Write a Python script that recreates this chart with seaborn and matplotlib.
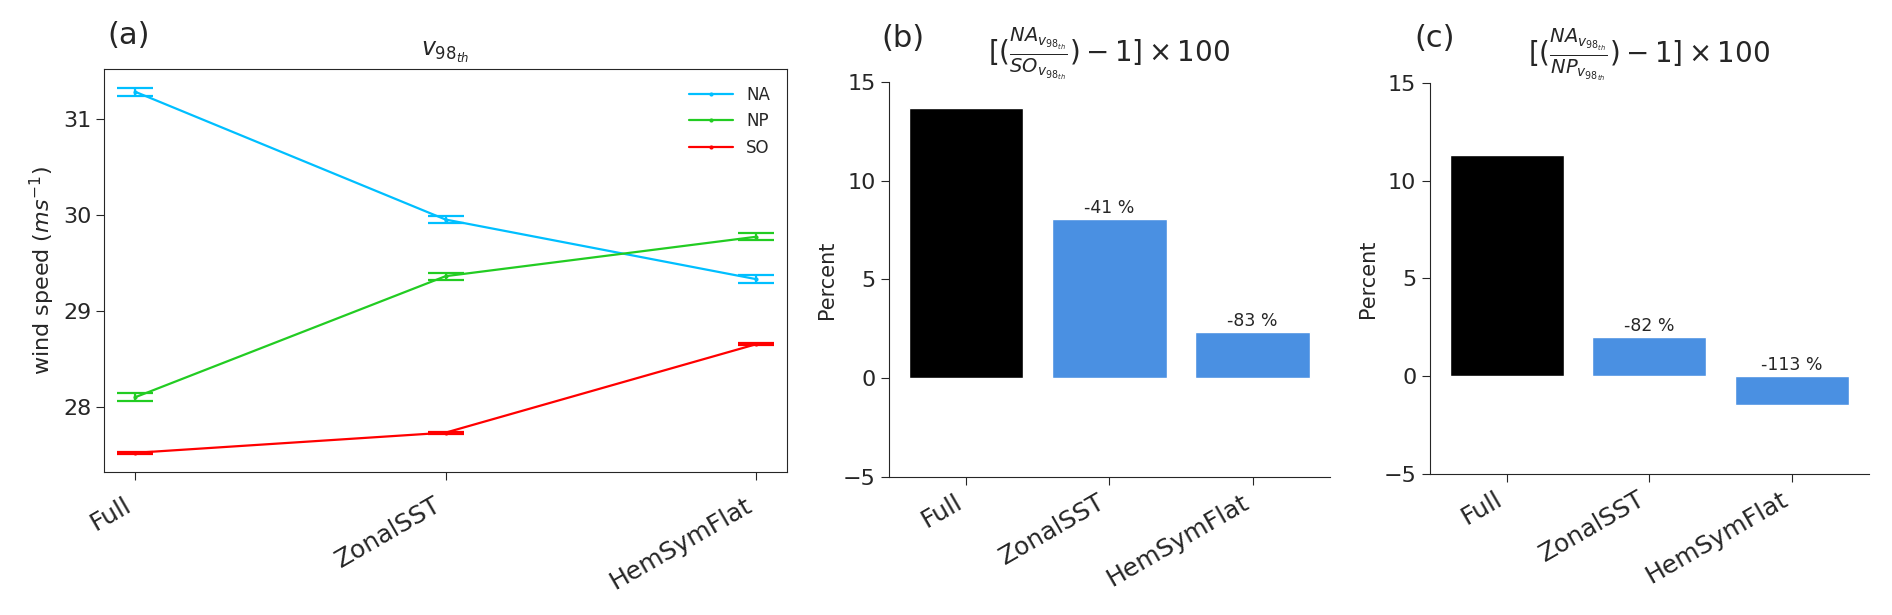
import numpy as np
import pandas as pd
import matplotlib
matplotlib.use("Agg")
import matplotlib.pyplot as plt
import seaborn as sns

sns.set_style("ticks")

experiments = ["Full", "ZonalSST", "HemSymFlat"]
regions = ["NA", "NP", "SO"]
region_colors = {"NA": "#00bfff", "NP": "#22cc22", "SO": "#ff0000"}

# v98th wind speed (m/s) and error half-widths
na_speed = [31.28, 29.95, 29.33]
np_speed = [28.10, 29.36, 29.77]
so_speed = [27.52, 27.73, 28.65]
na_err = [0.045, 0.040, 0.038]
np_err = [0.042, 0.037, 0.038]
so_err = [0.008, 0.010, 0.010]

# percent differences
na_so_pct = [13.68, 8.05, 2.33]
na_so_labels = ["", "-41 %", "-83 %"]
na_np_pct = [11.30, 2.02, -1.48]
na_np_labels = ["", "-82 %", "-113 %"]
bar_colors = ["#000000", "#4a90e2", "#4a90e2"]

df = pd.DataFrame({
    "x": list(range(len(experiments))) * 3,
    "speed": na_speed + np_speed + so_speed,
    "err": na_err + np_err + so_err,
    "region": [r for r in regions for _ in experiments],
})

fig = plt.figure(figsize=(18.92, 6.15), dpi=100)
ax_a = fig.add_axes([0.0552, 0.2325, 0.3606, 0.6548])
ax_b = fig.add_axes([0.4697, 0.2252, 0.2333, 0.6408])
ax_c = fig.add_axes([0.7556, 0.2298, 0.2321, 0.6352])

# (a) line plot with error bar caps
sns.lineplot(data=df, x="x", y="speed", hue="region", palette=region_colors,
             marker="o", markersize=3, markeredgewidth=0, linewidth=1.6, ax=ax_a)
for r in regions:
    sub = df[df.region == r]
    ax_a.errorbar(sub.x, sub.speed, yerr=sub.err, fmt="none", ecolor=region_colors[r],
                  capsize=13, capthick=1.6, elinewidth=1.6)
ax_a.set_xlim(-0.1, 2.1)
ax_a.set_ylim(27.32, 31.515)
ax_a.set_yticks([28, 29, 30, 31])
ax_a.set_xticks(range(len(experiments)))
ax_a.set_xticklabels(experiments, rotation=30, ha="right")
ax_a.tick_params(axis="y", labelsize=16, length=6)
ax_a.tick_params(axis="x", labelsize=18, length=6, pad=9)
ax_a.set_xlabel("")
ax_a.set_ylabel(r"wind speed ($ms^{-1}$)", fontsize=16)
ax_a.set_title(r"$v_{98_{th}}$", fontsize=17, pad=10)
ax_a.legend(frameon=False, fontsize=12, loc="upper right", handlelength=2.6,
            borderaxespad=0.6)


def bar_panel(ax, vals, labels, title):
    sns.barplot(x=experiments, y=vals, hue=experiments, palette=bar_colors,
                legend=False, width=0.8, saturation=1, ax=ax)
    for i, (v, lab) in enumerate(zip(vals, labels)):
        ax.text(i, max(v, 0) + 0.1, lab, ha="center", va="bottom", fontsize=12.5)
    ax.set_xlim(-0.54, 2.54)
    ax.set_ylim(-5, 15)
    ax.set_yticks([-5, 0, 5, 10, 15])
    ax.set_xticks(range(len(experiments)))
    ax.set_xticklabels(experiments, rotation=30, ha="right")
    ax.tick_params(axis="y", labelsize=16, length=6)
    ax.tick_params(axis="x", labelsize=18, length=6)
    ax.set_ylabel("Percent", fontsize=15)
    ax.set_title(title, fontsize=20, pad=8)
    sns.despine(ax=ax)


bar_panel(ax_b, na_so_pct, na_so_labels,
          r"$[(\frac{NA_{v_{98_{th}}}}{SO_{v_{98_{th}}}})-1]\times100$")
bar_panel(ax_c, na_np_pct, na_np_labels,
          r"$[(\frac{NA_{v_{98_{th}}}}{NP_{v_{98_{th}}}})-1]\times100$")

fig.text(0.068, 0.943, "(a)", fontsize=22, ha="center", va="center")
fig.text(0.477, 0.937, "(b)", fontsize=22, ha="center", va="center")
fig.text(0.758, 0.937, "(c)", fontsize=22, ha="center", va="center")

fig.savefig("out.png", dpi=100)
